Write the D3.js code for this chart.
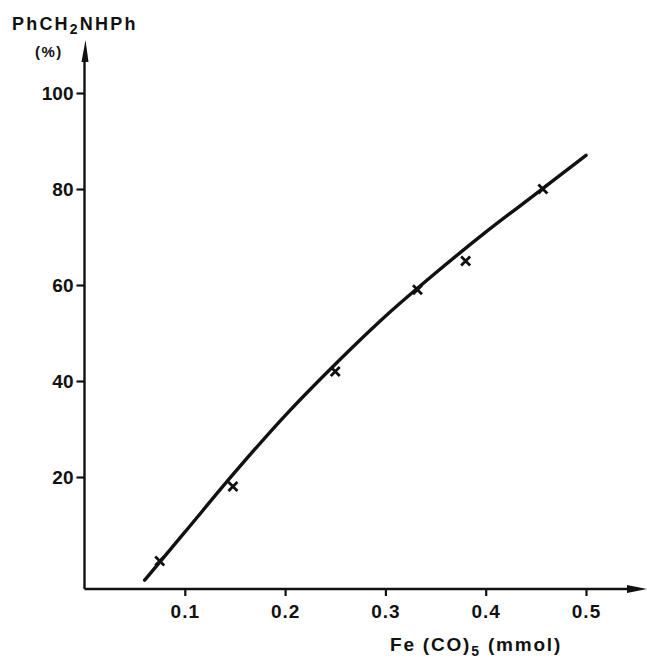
<!DOCTYPE html>
<html><head><meta charset="utf-8">
<script src="https://cdn.jsdelivr.net/npm/d3@7"></script>
<style>body{margin:0;background:#fff}svg{display:block}</style>
</head><body>
<script>
const xTicks = [0.1, 0.2, 0.3, 0.4, 0.5];
const yTicks = [20, 40, 60, 80, 100];
const pointX = [0.075, 0.148, 0.25, 0.332, 0.38, 0.457];
const pointY = [2.5, 18, 42, 59, 65, 80];
const curveX = [0.06, 0.1, 0.15, 0.2, 0.25, 0.3, 0.35, 0.4, 0.45, 0.5];
const curveY = [-1.5, 8.5, 21, 32.8, 43.5, 53.5, 62.5, 71, 79, 87];

const W = 647, H = 661;
const svg = d3.select("body").append("svg").attr("width", W).attr("height", H);
const x = d3.scaleLinear().domain([0, 0.5]).range([84.5, 586]);
const y = d3.scaleLinear().domain([0, 100]).range([573, 93]);
const axisY = 589, axisX = 84.5;
const font = "Liberation Sans";
const ink = "#111";

// axes lines
svg.append("line").attr("x1", axisX).attr("x2", 635).attr("y1", axisY).attr("y2", axisY)
  .attr("stroke", ink).attr("stroke-width", 2.4);
svg.append("path").attr("d", `M647,${axisY} L627,${axisY-4} L627,${axisY+4} Z`).attr("fill", ink);
svg.append("line").attr("x1", axisX).attr("x2", axisX).attr("y1", axisY).attr("y2", 55)
  .attr("stroke", ink).attr("stroke-width", 2.4);
svg.append("path").attr("d", `M${axisX+1},40 L${axisX-3},62 L${axisX+4},62 Z`).attr("fill", ink);

// x axis ticks
const gx = svg.append("g").attr("transform", `translate(0,${axisY})`)
  .call(d3.axisBottom(x).tickValues(xTicks).tickSize(7).tickPadding(9).tickFormat(d3.format(".1f")));
gx.select(".domain").remove();
gx.selectAll("line").attr("stroke", ink).attr("stroke-width", 2.2);
gx.selectAll("text").attr("font-family", font).attr("font-weight", "bold")
  .attr("font-size", 19).attr("letter-spacing", 1).attr("fill", ink);

// y axis ticks
const gy = svg.append("g").attr("transform", `translate(${axisX},0)`)
  .call(d3.axisLeft(y).tickValues(yTicks).tickSize(8).tickPadding(3));
gy.select(".domain").remove();
gy.selectAll("line").attr("stroke", ink).attr("stroke-width", 2.2);
gy.selectAll("text").attr("font-family", font).attr("font-weight", "bold")
  .attr("font-size", 19).attr("fill", ink);

// curve
const line = d3.line().x(d => x(d[0])).y(d => y(d[1])).curve(d3.curveCatmullRom.alpha(0.5));
svg.append("path").datum(curveX.map((v, i) => [v, curveY[i]]))
  .attr("d", line).attr("fill", "none").attr("stroke", ink).attr("stroke-width", 3.4)
  .attr("stroke-linecap", "round");

// markers
const s = 4.5;
svg.append("g").selectAll("path").data(pointX.map((v, i) => [v, pointY[i]])).join("path")
  .attr("d", d => { const cx = x(d[0]), cy = y(d[1]);
    return `M${cx-s},${cy-s}L${cx+s},${cy+s}M${cx+s},${cy-s}L${cx-s},${cy+s}`; })
  .attr("stroke", ink).attr("stroke-width", 2.8).attr("fill", "none");

// labels
const t = svg.append("text").attr("x", 12).attr("y", 30).attr("font-family", font)
  .attr("font-weight", "bold").attr("font-size", 18).attr("letter-spacing", 2.2).attr("fill", ink);
t.append("tspan").text("PhCH");
t.append("tspan").attr("font-size", 14).attr("dy", 4).text("2");
t.append("tspan").attr("dy", -4).text("NHPh");
svg.append("text").attr("x", 35).attr("y", 57).attr("font-family", font).attr("font-weight", "bold")
  .attr("font-size", 15).attr("letter-spacing", 1.5).attr("fill", ink).text("(%)");

const xt = svg.append("text").attr("x", 390).attr("y", 651).attr("font-family", font)
  .attr("font-weight", "bold").attr("font-size", 19).attr("letter-spacing", 1.8).attr("fill", ink);
xt.append("tspan").text("Fe (CO)");
xt.append("tspan").attr("font-size", 14).attr("dy", 5).text("5");
xt.append("tspan").attr("dy", -5).text(" (mmol)");
</script>
</body></html>
